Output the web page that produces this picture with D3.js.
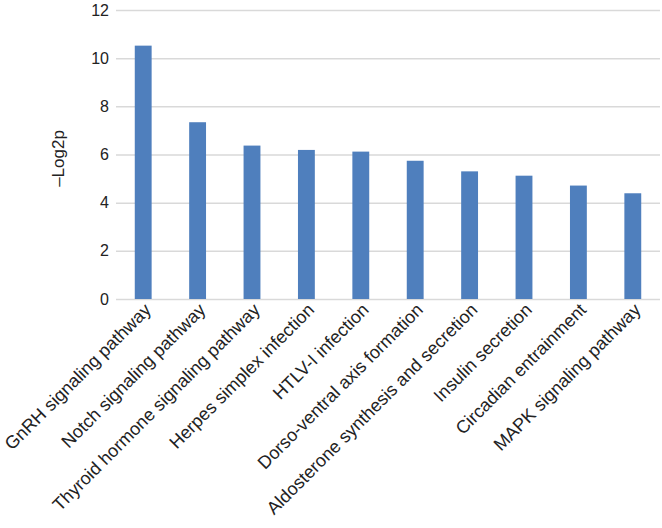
<!DOCTYPE html>
<html>
<head>
<meta charset="utf-8">
<script src="https://cdn.jsdelivr.net/npm/d3@7"></script>
<style>
  body { margin: 0; background: #fff; }
  svg { display: block; font-family: "Liberation Sans", Arial, Helvetica, sans-serif; }
  .grid line { stroke: #d9d9d9; stroke-width: 1.5; }
  .grid .domain { display: none; }
  .tick text { fill: #222; }
</style>
</head>
<body>
<svg id="chart" width="662" height="528"></svg>
<script>
// pathways and -Log2p values
const pathways = [
  "GnRH signaling pathway",
  "Notch signaling pathway",
  "Thyroid hormone signaling pathway",
  "Herpes simplex infection",
  "HTLV-I infection",
  "Dorso-ventral axis formation",
  "Aldosterone synthesis and secretion",
  "Insulin secretion",
  "Circadian entrainment",
  "MAPK signaling pathway",
];
const scores = [10.52, 7.34, 6.37, 6.19, 6.12, 5.74, 5.3, 5.12, 4.71, 4.39];
const yTicks = [0, 2, 4, 6, 8, 10, 12];

const W = 662, H = 528;
const m = { top: 10, right: 2, bottom: 229, left: 116 };

const svg = d3.select("#chart");

const x = d3.scaleBand()
  .domain(pathways)
  .range([m.left, W - m.right])
  .paddingInner(0.69)
  .paddingOuter(0.345);

const y = d3.scaleLinear()
  .domain([0, 12])
  .range([H - m.bottom, m.top]);

// ── gridlines + y labels ─────────────────────────────
const yAxis = svg.append("g")
  .attr("class", "grid")
  .attr("transform", `translate(${m.left},0)`)
  .call(d3.axisLeft(y).tickValues(yTicks).tickSize(-(W - m.left - m.right)).tickPadding(7));
yAxis.selectAll(".tick text").attr("font-size", 16);

// ── bars ────────────────────────────────────────────
svg.append("g")
  .selectAll("rect")
  .data(scores)
  .join("rect")
  .attr("x", (d, i) => x(pathways[i]))
  .attr("y", (d) => y(d))
  .attr("width", x.bandwidth())
  .attr("height", (d) => y(0) - y(d))
  .attr("fill", "#4f7fbd");

// ── rotated category labels ─────────────────────────
svg.append("g")
  .selectAll("text")
  .data(pathways)
  .join("text")
  .attr("transform", (d) => `translate(${x(d) + x.bandwidth() / 2 + 9},${y(0) + 12}) rotate(-45)`)
  .attr("text-anchor", "end")
  .attr("font-size", 18)
  .attr("fill", "#222")
  .text((d) => d);

// ── y title ─────────────────────────────────────────
svg.append("text")
  .attr("transform", `translate(64,158.5) rotate(-90)`)
  .attr("text-anchor", "middle")
  .attr("font-size", 17)
  .attr("fill", "#222")
  .text("\u2013Log2p");
</script>
</body>
</html>
